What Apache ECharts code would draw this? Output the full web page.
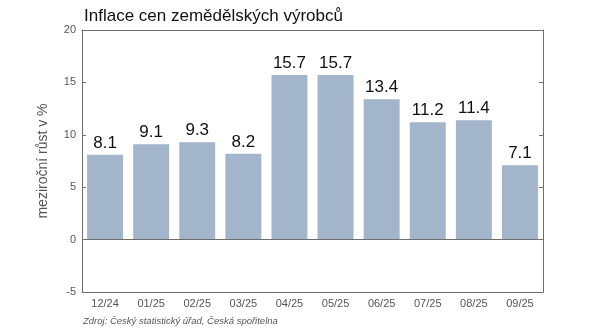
<!DOCTYPE html>
<html><head><meta charset="utf-8">
<script src="https://cdn.jsdelivr.net/npm/echarts@6/dist/echarts.min.js"></script>
<style>html,body{margin:0;padding:0;background:#fff}#c{width:601px;height:329px}</style>
</head><body><div id="c"></div>
<script>
const categories = ['12/24','01/25','02/25','03/25','04/25','05/25','06/25','07/25','08/25','09/25'];
const values = [8.1, 9.1, 9.3, 8.2, 15.7, 15.7, 13.4, 11.2, 11.4, 7.1];
const yMin = -5, yMax = 20, yStep = 5;
const titleText = 'Inflace cen zemědělských výrobců';
const yName = 'meziroční růst v %';
const sourceText = 'Zdroj: Český statistický úřad, Česká spořitelna';

const font = 'Liberation Sans, Arial, sans-serif';
const axisCol = '#6e6e6e';
const chart = echarts.init(document.getElementById('c'), null, {renderer:'canvas'});
chart.setOption({
  animation:false,
  textStyle:{fontFamily:font},
  title:[
    {text:titleText, left:79, top:3, textStyle:{fontFamily:font, fontSize:17, fontWeight:'normal', color:'#111'}},
    {text:sourceText, left:78, top:311, textStyle:{fontFamily:font, fontSize:9.5, fontStyle:'italic', fontWeight:'normal', color:'#555'}}
  ],
  grid:{left:82, right:58, top:30, bottom:37},
  xAxis:[
    {type:'category', data:categories, position:'bottom',
     axisLine:{onZero:false, lineStyle:{color:axisCol, width:1}},
     axisTick:{inside:true, alignWithLabel:true, length:4, lineStyle:{color:axisCol}},
     axisLabel:{color:'#555', fontSize:11, fontFamily:font, margin:6}},
    {type:'category', data:categories, position:'top',
     axisLine:{onZero:false, lineStyle:{color:axisCol, width:1}},
     axisTick:{inside:true, alignWithLabel:true, length:4, lineStyle:{color:axisCol}},
     axisLabel:{show:false}}
  ],
  yAxis:[
    {type:'value', min:yMin, max:yMax, interval:yStep, position:'left',
     name:yName, nameLocation:'middle', nameGap:32, nameRotate:90,
     nameTextStyle:{color:'#555', fontSize:14, fontFamily:font},
     axisLine:{show:true, onZero:false, lineStyle:{color:axisCol}},
     axisTick:{show:true, inside:true, length:4, lineStyle:{color:axisCol}},
     axisLabel:{color:'#555', fontSize:11, fontFamily:font, margin:6},
     splitLine:{show:false}},
    {type:'value', min:yMin, max:yMax, interval:yStep, position:'right',
     axisLine:{show:true, onZero:false, lineStyle:{color:axisCol}},
     axisTick:{show:true, inside:true, length:4, lineStyle:{color:axisCol}},
     axisLabel:{show:false}, splitLine:{show:false}}
  ],
  series:[{
    type:'bar', data:values, barCategoryGap:'22%',
    itemStyle:{color:'#a3b5ca'},
    label:{show:true, position:'top', distance:3, color:'#111', fontSize:17, fontFamily:font,
      formatter:p=>p.value.toFixed(1)},
    markLine:{silent:true, symbol:'none', label:{show:false},
      lineStyle:{color:axisCol, type:'solid', width:1},
      data:[{yAxis:0}]}
  }]
});
</script></body></html>
